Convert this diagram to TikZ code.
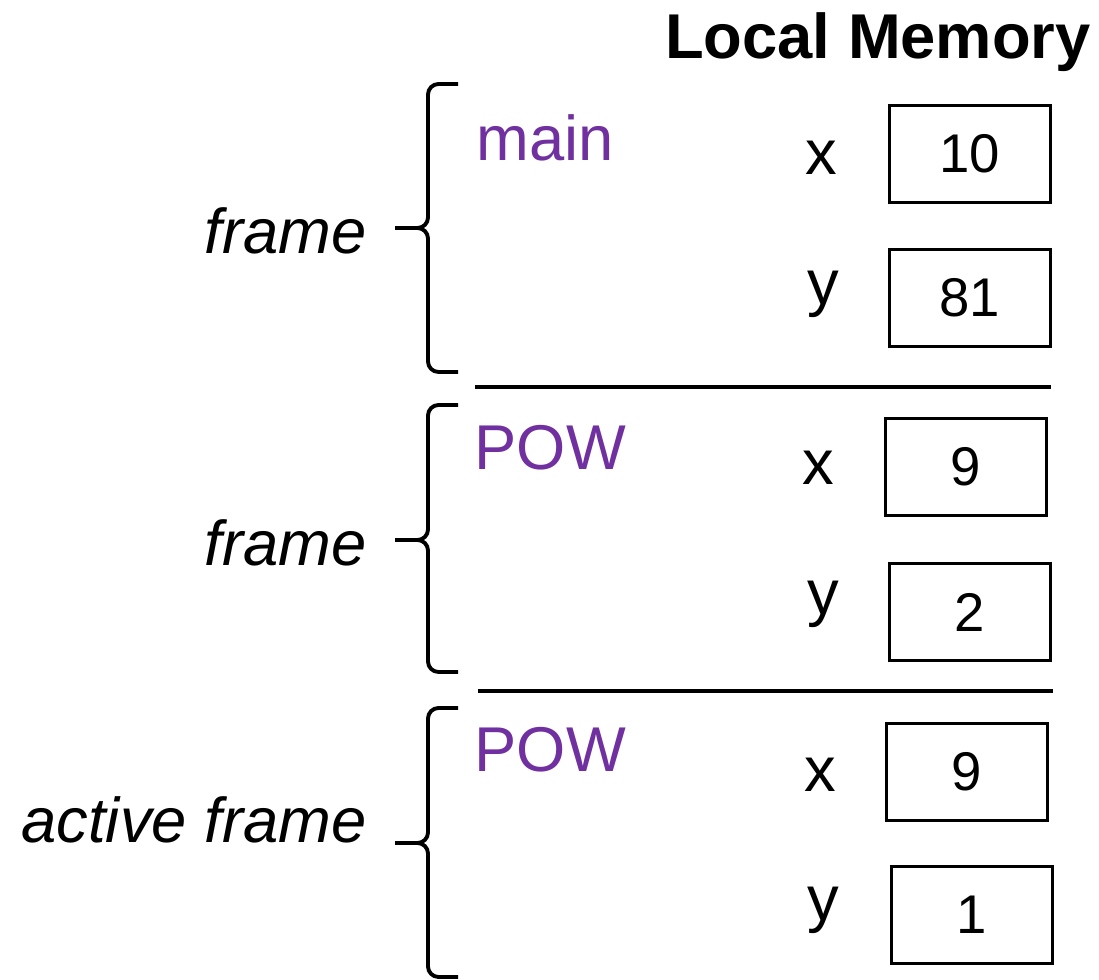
\documentclass[tikz,border=0pt]{standalone}
\usepackage{fontspec}
\setmainfont{Liberation Sans}
\definecolor{fnpurple}{RGB}{112,48,160}
\tikzset{
  cell/.style={draw, line width=0.85pt, minimum width=1.6cm, minimum height=0.96cm,
               inner sep=0pt, font=\fontsize{15.5}{18}\selectfont},
  fname/.style={anchor=west, inner sep=0pt, text=fnpurple, font=\fontsize{18}{21}\selectfont},
  vname/.style={inner sep=0pt, font=\fontsize{18}{21}\selectfont},
  flabel/.style={anchor=east, inner sep=0pt, font=\fontsize{18}{21}\selectfont\itshape},
  brace/.style={line width=1.1pt, rounded corners=3pt},
}
% brace: top, tip, bottom
\newcommand{\framebrace}[3]{%
  \draw[brace] (458,#1) -- (428,#1) -- (428,#2) -- (395,#2);
  \draw[brace] (395,#2) -- (428,#2) -- (428,#3) -- (458,#3);
}

\begin{document}
\begin{tikzpicture}[x=0.01cm,y=-0.01cm]
\useasboundingbox (0,0) rectangle (1099,980);
\node[vname, font=\fontsize{18}{21}\selectfont\bfseries] (title) at (878,42) {Local Memory};
% frame 1
\framebrace{84}{228}{372}
\node[flabel] (lbl1) at (367,231) {frame};
\node[fname] (fn1) at (476,138) {main};
\node[vname] (x1) at (821,158) {x};
\node[cell] (vx1) at (970,154) {10};
\node[vname] (y1) at (823,294) {y};
\node[cell] (vy1) at (970,298) {81};
\draw[line width=1.1pt] (475,387) -- (1051,387);
% frame 2
\framebrace{405}{540}{672}
\node[flabel] (lbl2) at (367,543) {frame};
\node[fname] (fn2) at (474,448) {POW};
\node[vname] (x2) at (818,468) {x};
\node[cell] (vx2) at (966,467) {9};
\node[vname] (y2) at (823,604) {y};
\node[cell] (vy2) at (970,612) {2};
\draw[line width=1.1pt] (478,691) -- (1053,691);
% frame 3 (active)
\framebrace{708}{843}{977}
\node[flabel] (lbl3) at (367,820) {active frame};
\node[fname] (fn3) at (474,750) {POW};
\node[vname] (x3) at (820,775) {x};
\node[cell] (vx3) at (967,772) {9};
\node[vname] (y3) at (823,910) {y};
\node[cell] (vy3) at (972,915) {1};
\end{tikzpicture}
\end{document}
